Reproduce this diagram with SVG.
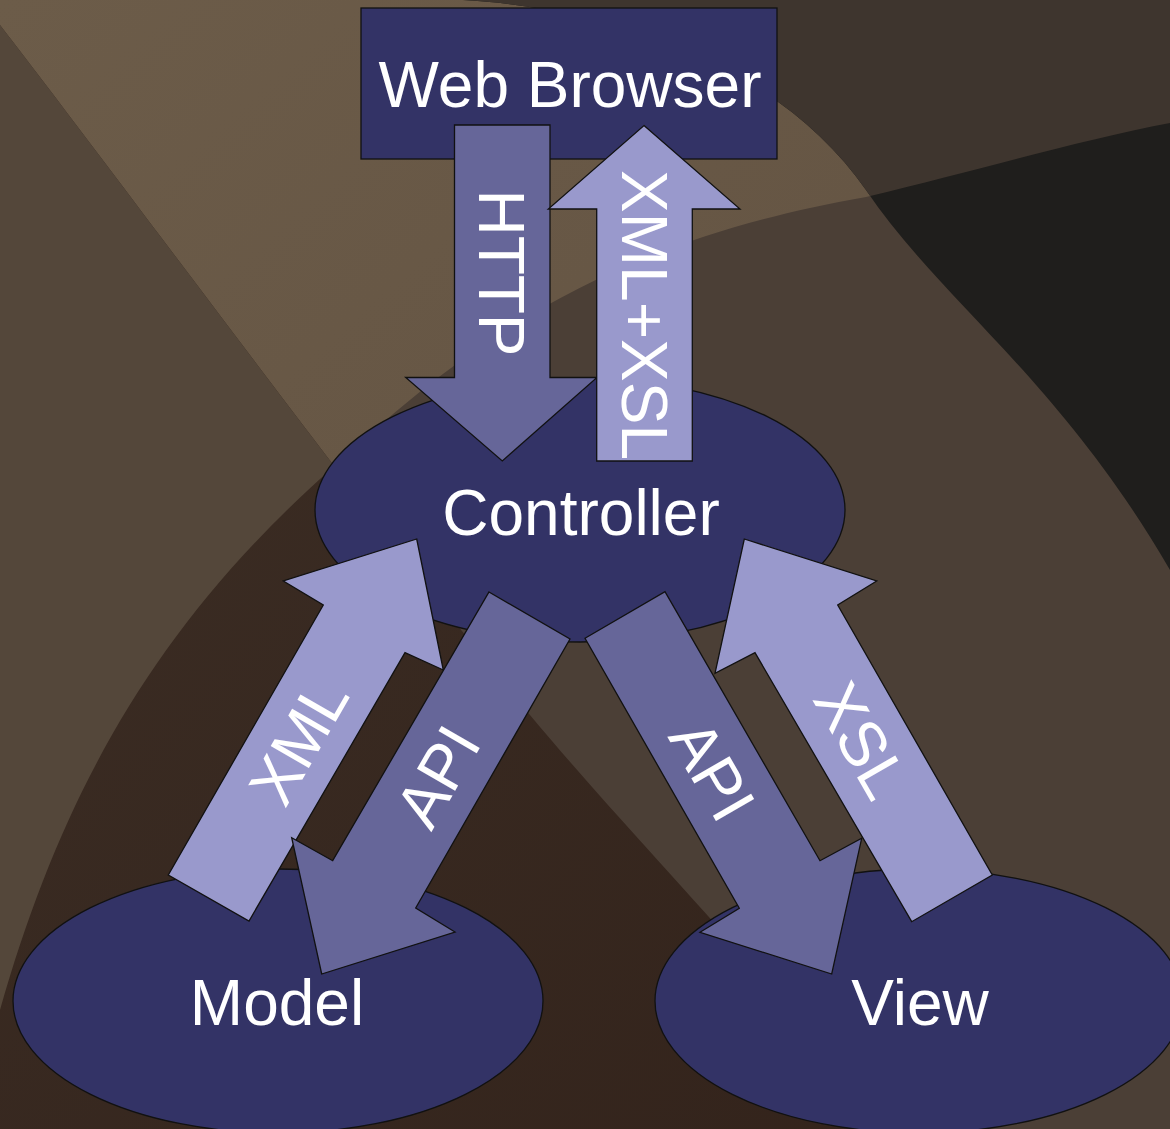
<svg xmlns="http://www.w3.org/2000/svg" width="1170" height="1129" viewBox="0 0 1170 1129">
<defs>
<style>
.node{fill:#333366;stroke:#111;stroke-width:1.3}
.lbl{font-family:"Liberation Sans",Arial,sans-serif;font-size:64px;fill:#fff;text-anchor:middle}
.dark{fill:#666699;stroke:#111;stroke-width:1.3}
.light{fill:#9999cc;stroke:#111;stroke-width:1.3}
</style>
<linearGradient id="gLight" x1="0" y1="0" x2="1" y2="1">
<stop offset="0" stop-color="#6c5c49"/>
<stop offset="1" stop-color="#5f4f3f"/>
</linearGradient>
<linearGradient id="gDark" x1="0" y1="0" x2="1" y2="1">
<stop offset="0" stop-color="#3d2f26"/>
<stop offset="1" stop-color="#32221a"/>
</linearGradient>
<path id="aboveB" d="M0,1010 C60,800 150,630 330,470 C480,330 620,240 866,197 C980,170 1080,140 1170,123 L1170,0 L0,0 Z"/>
<clipPath id="leftA"><path d="M0,25 C120,180 400,560 530,715 S760,960 880,1129 L0,1129 Z"/></clipPath>
<clipPath id="rightA"><path d="M463,0 C640,10 790,80 866,190 C940,300 1060,380 1170,570 L1170,0 Z"/></clipPath>
</defs>

<g id="background">
<rect x="0" y="0" width="1170" height="1129" fill="#4b3f36"/>
<use href="#aboveB" fill="url(#gLight)"/>
<g clip-path="url(#leftA)">
<rect x="0" y="0" width="1170" height="1129" fill="url(#gDark)"/>
<use href="#aboveB" fill="#54473a"/>
</g>
<g clip-path="url(#rightA)">
<rect x="0" y="0" width="1170" height="1129" fill="#1f1e1c"/>
<use href="#aboveB" fill="#3e352e"/>
</g>
</g>

<g id="web-browser">
<rect class="node" x="361" y="8" width="416" height="151"/>
<text class="lbl" x="570" y="107">Web Browser</text>
</g>

<g id="controller">
<ellipse class="node" cx="580" cy="510" rx="265" ry="132"/>
<text class="lbl" x="581" y="535">Controller</text>
</g>

<g id="model">
<ellipse class="node" cx="278" cy="1001" rx="265" ry="132"/>
<text class="lbl" x="277" y="1025">Model</text>
</g>

<g id="view">
<ellipse class="node" cx="919" cy="1001" rx="264" ry="132"/>
<text class="lbl" x="920" y="1025">View</text>
</g>

<g id="connectors">
<g id="http">
<polygon class="dark" points="454.5,125 550,125 550,377.5 597,377.5 502.3,461 405.7,377.5 454.5,377.5"/>
<text class="lbl" transform="translate(502,273) rotate(90)" y="23">HTTP</text>
</g>
<g id="xml-xsl">
<polygon class="light" points="644,125.5 740,209 692.3,209 692.3,461 596.7,461 596.7,209 548.3,209"/>
<text class="lbl" transform="translate(645,315) rotate(90)" y="23">XML+XSL</text>
</g>
<g id="xml">
<polygon class="light" points="416.7,539 443.3,670 405,652.7 249,921 168.3,875 323.3,605 283.3,581"/>
<text class="lbl" transform="translate(298,741) rotate(-60)" y="23">XML</text>
</g>
<g id="xsl">
<polygon class="light" points="744.3,539 876.7,581 837.7,605 992.3,875 911.7,921.7 755,652.7 715,673.3"/>
<text class="lbl" transform="translate(862,740) rotate(60)" y="23">XSL</text>
</g>
<g id="api-model">
<polygon class="dark" points="489,592 570,639 415.7,908 455,932 321.7,974 291.7,837.7 332.7,860.7"/>
<text class="lbl" transform="translate(437,776) rotate(-60)" y="23">API</text>
</g>
<g id="api-view">
<polygon class="dark" points="585,638.3 665,591.7 820,860.7 861.7,838.3 831.7,974 700,932.3 739.3,908.3"/>
<text class="lbl" transform="translate(713,770) rotate(60)" y="23">API</text>
</g>
</g>
</svg>
